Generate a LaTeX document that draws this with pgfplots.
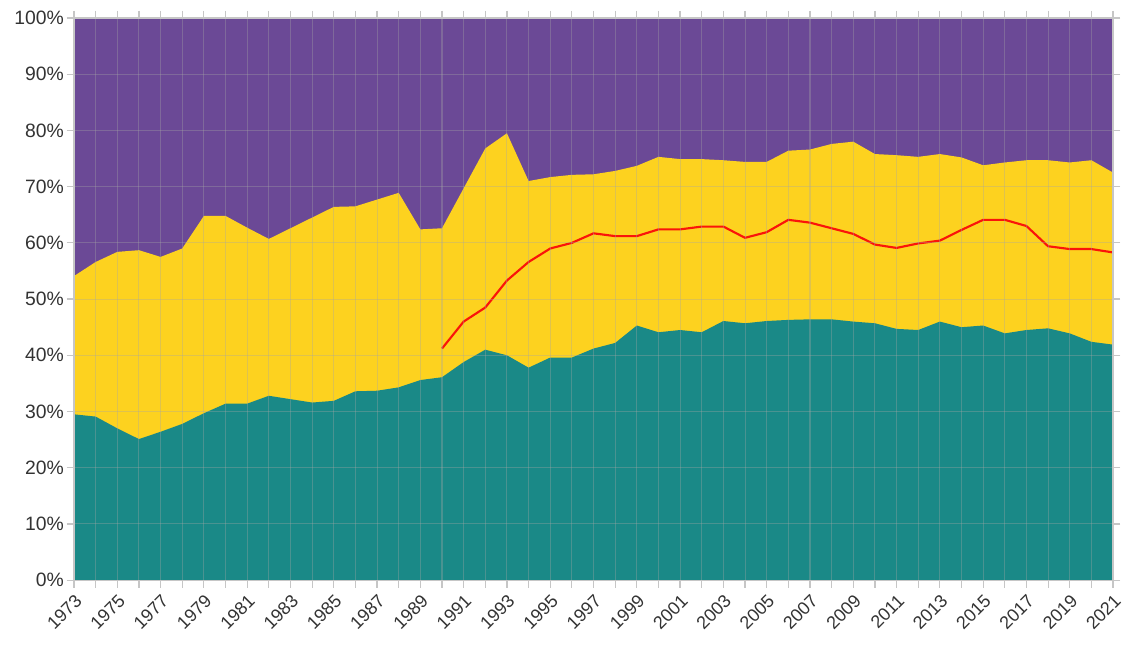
\documentclass[border=0pt]{standalone}
\usepackage{pgfplots}
\pgfplotsset{compat=1.18}
\usepackage{pgfplotstable}
\usepackage{fontspec}
\setmainfont{Liberation Sans}
\definecolor{cpurple}{RGB}{107,73,150}
\definecolor{cyellow}{RGB}{253,210,31}
\definecolor{cteal}{RGB}{26,137,135}
\definecolor{cred}{RGB}{250,20,10}
\pgfplotstableread{
year teal yellow red
1973 29.5 54.1 nan
1974 29.1 56.6 nan
1975 27.0 58.4 nan
1976 25.1 58.7 nan
1977 26.4 57.5 nan
1978 27.8 59.0 nan
1979 29.7 64.8 nan
1980 31.4 64.8 nan
1981 31.4 62.7 nan
1982 32.8 60.7 nan
1983 32.2 62.6 nan
1984 31.6 64.5 nan
1985 31.9 66.4 nan
1986 33.6 66.5 nan
1987 33.7 67.7 nan
1988 34.3 68.9 nan
1989 35.6 62.4 nan
1990 36.1 62.6 41.2
1991 38.8 69.7 46.0
1992 41.0 76.8 48.5
1993 40.0 79.5 53.3
1994 37.8 71.0 56.6
1995 39.6 71.7 59.0
1996 39.6 72.1 60.0
1997 41.2 72.2 61.7
1998 42.2 72.8 61.2
1999 45.3 73.7 61.2
2000 44.1 75.3 62.4
2001 44.5 74.9 62.4
2002 44.1 74.9 62.9
2003 46.1 74.7 62.9
2004 45.7 74.4 60.9
2005 46.1 74.4 61.9
2006 46.3 76.4 64.1
2007 46.4 76.6 63.6
2008 46.4 77.6 62.6
2009 46.0 78.0 61.6
2010 45.7 75.8 59.7
2011 44.7 75.6 59.1
2012 44.5 75.3 59.9
2013 46.0 75.8 60.4
2014 45.0 75.2 62.3
2015 45.3 73.8 64.1
2016 43.9 74.3 64.1
2017 44.5 74.7 63.0
2018 44.8 74.7 59.4
2019 43.9 74.3 58.9
2020 42.4 74.7 58.9
2021 41.9 72.5 58.3
}\datatable
\begin{document}
\begin{tikzpicture}
\begin{axis}[
  name=ax,
  scale only axis,
  width=779pt, height=421.5pt,
  xmin=1973, xmax=2021, ymin=0, ymax=100,
  axis on top,
  axis line style={draw=gray!45, line width=0.8pt},
  xtick={1973,1975,...,2021},
  minor xtick={1974,1976,...,2020},
  ytick={0,10,...,100},
  yticklabel={\pgfmathprintnumber{\tick}\%},
  xticklabel style={rotate=45, anchor=north east, inner sep=0pt, xshift=-3pt, yshift=-3pt, font=\fontsize{13.5}{14}\selectfont},
  yticklabel style={inner sep=2pt, font=\fontsize{14.5}{16}\selectfont},
  /pgf/number format/assume math mode=true,
  /pgf/number format/1000 sep={},
  ticklabel style={text=black!80},
  tick align=outside,
  major tick length=5.5pt,
  minor tick length=5.5pt,
  tick style={draw=gray!45, line width=0.9pt},
  grid=both,
  major grid style={draw=gray!70, opacity=0.35, line width=0.8pt},
  minor grid style={draw=gray!70, opacity=0.35, line width=0.8pt},
  clip=true,
]
\addplot[draw=none, fill=cpurple] coordinates {(1973,100) (2021,100)} \closedcycle;
\addplot[draw=none, fill=cyellow] table[x=year, y=yellow] {\datatable} \closedcycle;
\addplot[draw=none, fill=cteal] table[x=year, y=teal] {\datatable} \closedcycle;
\addplot[draw=cred, line width=1.6pt] table[x=year, y=red] {\datatable};
\end{axis}
\path ([xshift=-55.5pt,yshift=-48pt]ax.south west) rectangle ([xshift=7.5pt,yshift=13.5pt]ax.north east);
\end{tikzpicture}
\end{document}
